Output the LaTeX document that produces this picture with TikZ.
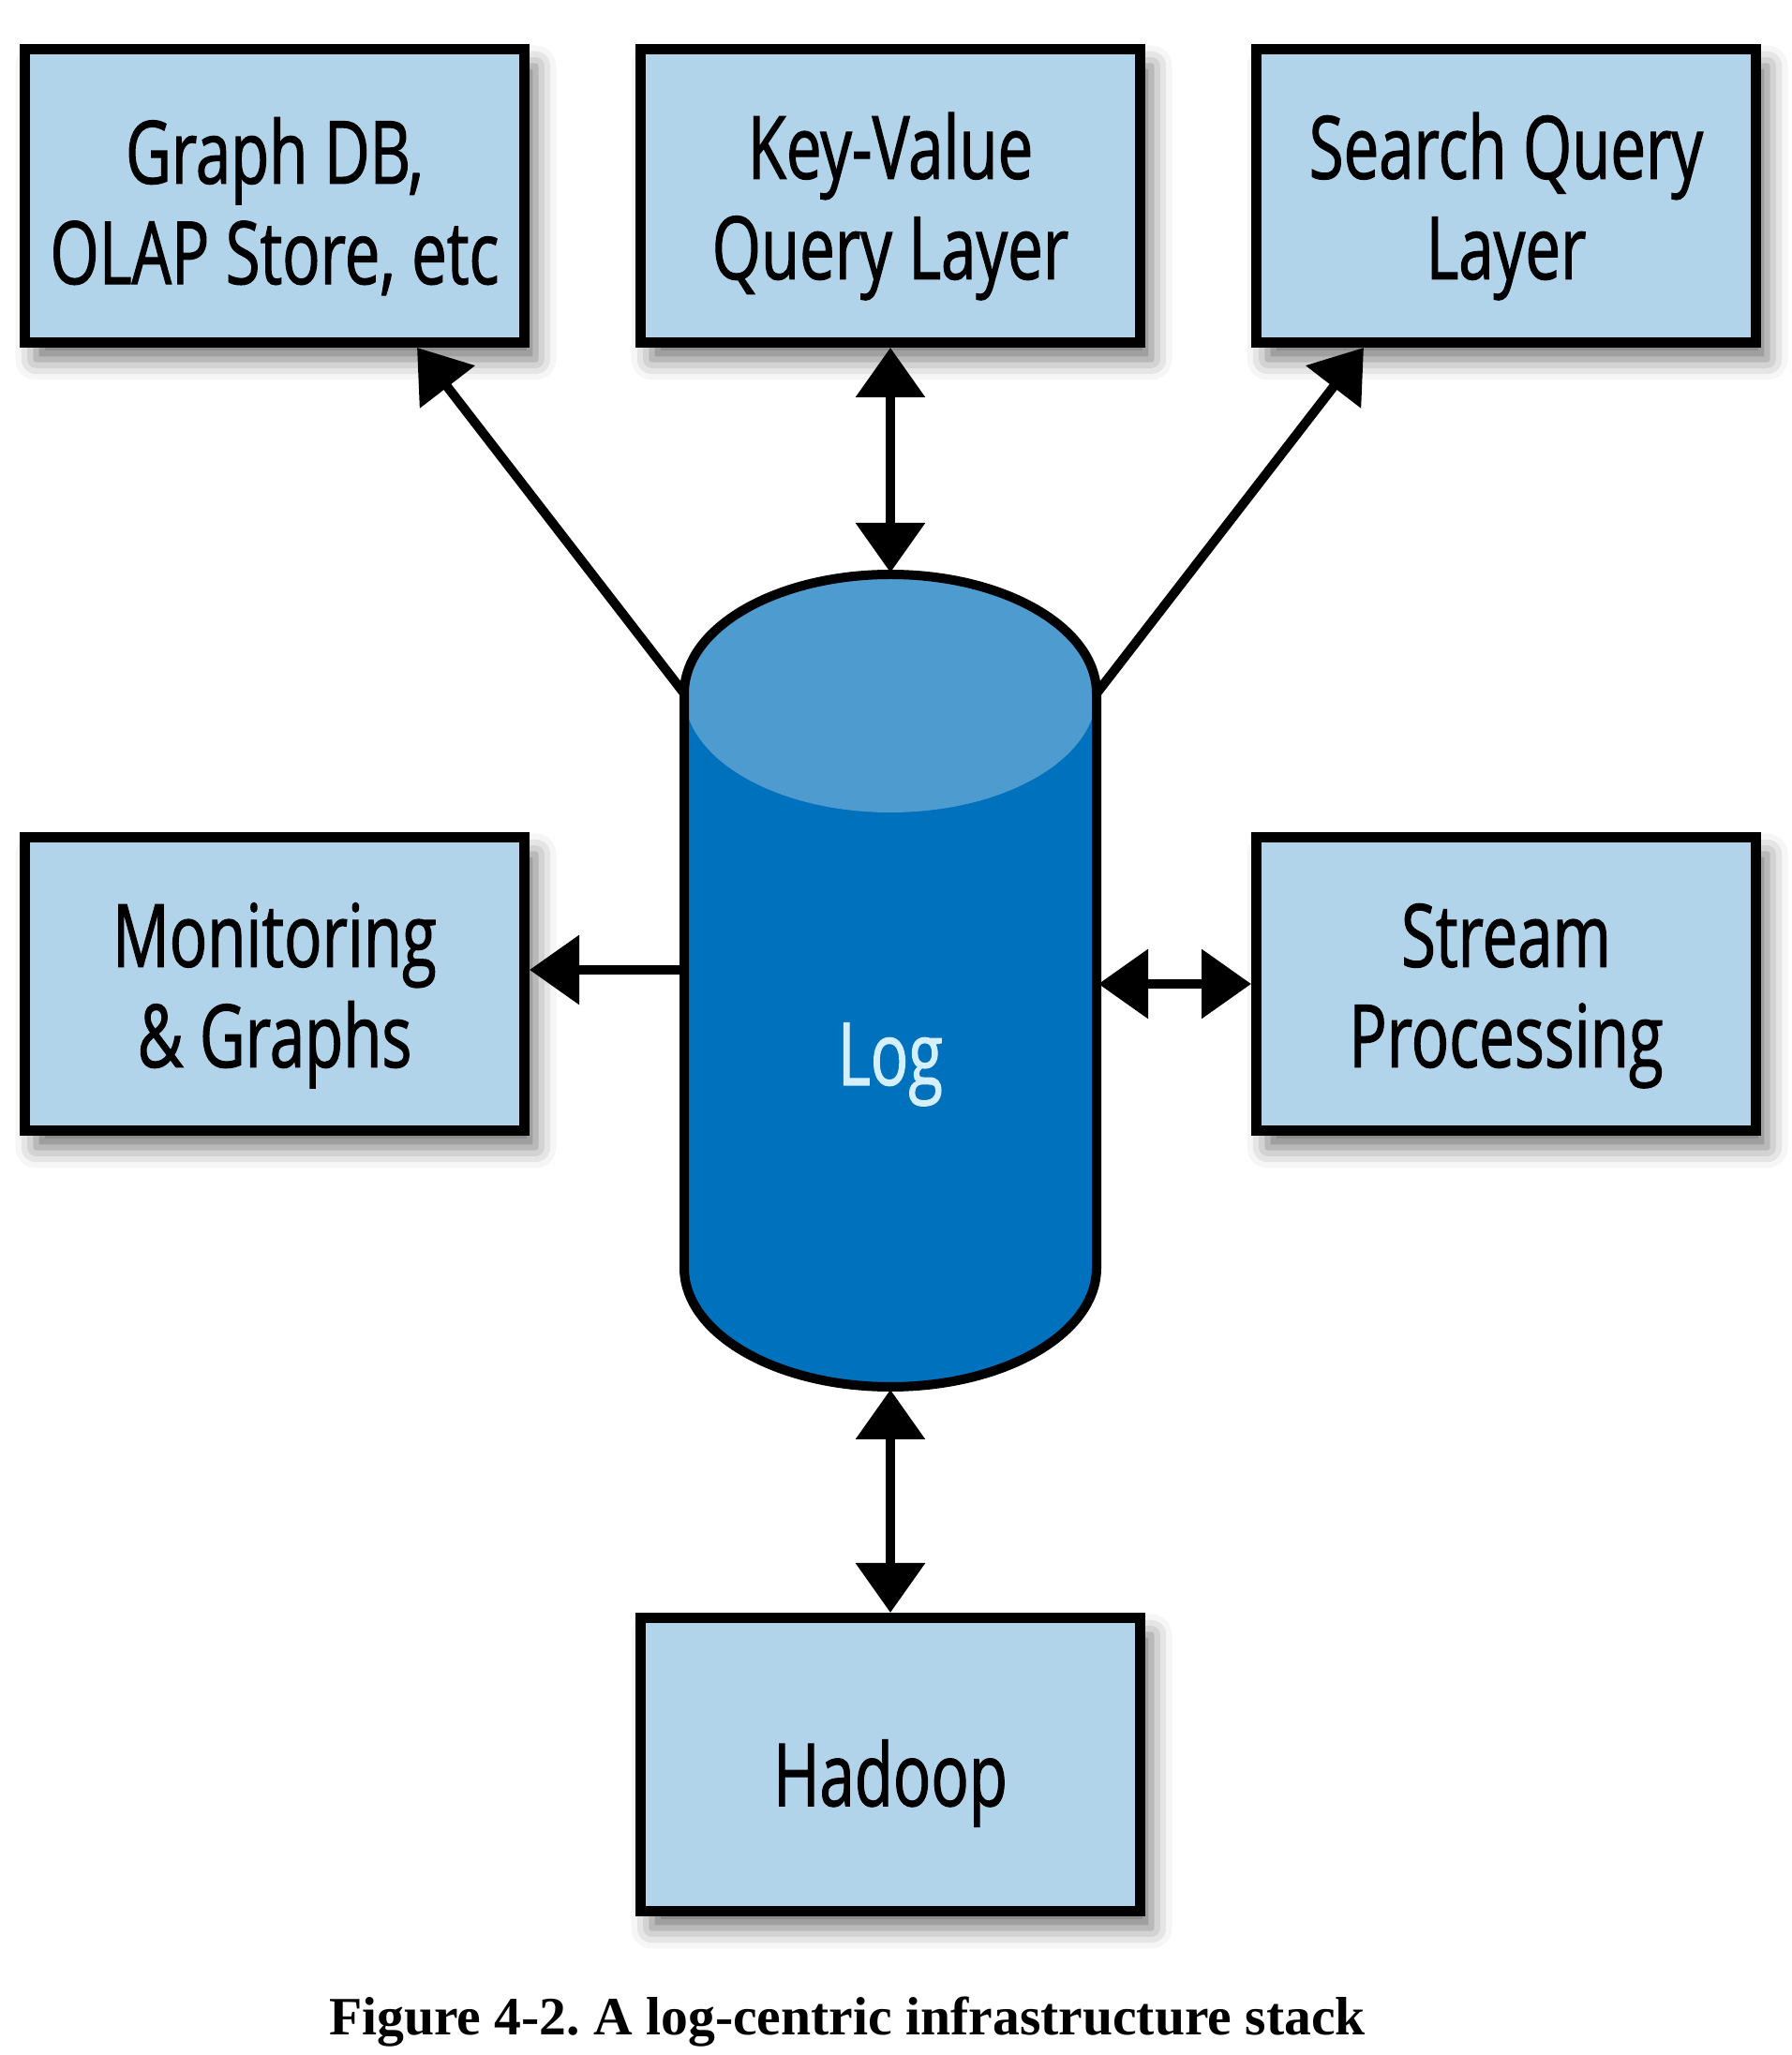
\documentclass[tikz,border=0pt]{standalone}
\usepackage{fontspec}
\usepackage{tikz}
\usetikzlibrary{arrows.meta, calc, shadows.blur}
\newfontfamily\boxfont[FakeStretch=0.72, FakeBold=1.2]{Open Sans}
\newfontfamily\capfont{Liberation Serif}
\newcommand{\topstrut}[1][0.93cm]{\rule{0pt}{#1}}
\definecolor{BoxBlue}{RGB}{178,212,235}
\definecolor{LogBlue}{RGB}{0,113,188}
\definecolor{LogLight}{RGB}{78,155,208}
\definecolor{LogText}{RGB}{212,240,255}

\begin{document}
\begin{tikzpicture}[
    box/.style={shape=rectangle, draw=black, line width=0.11cm, fill=BoxBlue,
        minimum width=5.33cm, minimum height=3.13cm, align=center, inner sep=0pt,
        font=\boxfont\fontsize{26.5}{30.5}\selectfont,
        blur shadow={shadow xshift=0.12cm, shadow yshift=-0.18cm,
            shadow blur radius=0.22cm, shadow opacity=55}},
    conn/.style={line width=0.10cm, -{Triangle[width=0.72cm, length=0.53cm]}},
    conn2/.style={line width=0.10cm,
        {Triangle[width=0.72cm, length=0.53cm]}-{Triangle[width=0.72cm, length=0.53cm]}},
    logline/.style={draw=black, line width=0.10cm, line join=round}]
    \useasboundingbox (0,0) rectangle (19.12,21.93);

    \node[box] (graph)   at ( 2.93,19.84) {\topstrut Graph DB,\\OLAP Store, etc};
    \node[box] (kv)      at ( 9.50,19.84) {\topstrut Key-Value\\Query Layer};
    \node[box] (search)  at (16.07,19.84) {\topstrut Search Query\\Layer};
    \node[box] (monitor) at ( 2.93,11.43) {\topstrut Monitoring\\\& Graphs};
    \node[box] (stream)  at (16.07,11.43) {\topstrut Stream\\Processing};
    \node[box] (hadoop)  at ( 9.50, 3.10) {\topstrut[1.11cm]Hadoop};

    % the log cylinder
    \fill[LogBlue] (7.30,14.53) -- (7.30,8.40)
        arc[start angle=180, end angle=360, x radius=2.20, y radius=1.27]
        -- (11.70,14.53) -- cycle;
    \fill[LogLight] (9.50,14.53) ellipse[x radius=2.20, y radius=1.27];
    \draw[logline] (7.30,8.40) -- (7.30,14.53)
        arc[start angle=180, end angle=0, x radius=2.20, y radius=1.27]
        -- (11.70,8.40)
        arc[start angle=0, end angle=-180, x radius=2.20, y radius=1.27];
    \node[font=\boxfont\fontsize{26.5}{30.5}\selectfont, text=LogText, anchor=base]
        (log) at (9.50,10.35) {Log};

    \coordinate (logNW)  at ( 7.30,14.53);
    \coordinate (logNE)  at (11.70,14.53);
    \coordinate (logtop) at ( 9.50,15.82);
    \coordinate (logbot) at ( 9.50, 7.10);
    \coordinate (logW)   at ( 7.30,11.58);
    \coordinate (logE)   at (11.72,11.43);
    \coordinate (graphIn)  at ($(graph.south)+(1.52,0)$);
    \coordinate (searchIn) at ($(search.south)+(-1.52,0)$);

    \path[conn]  (logNW)  edge (graphIn);
    \path[conn]  (logNE)  edge (searchIn);
    \path[conn2] (logtop) edge (kv.south);
    \path[conn]  (logW)   edge (logW -| monitor.east);
    \path[conn2] (logE)   edge (stream.west);
    \path[conn2] (logbot) edge (hadoop.north);

    \node[font=\capfont\bfseries\fontsize{16.4}{19}\selectfont, anchor=base]
        (caption) at (9.04,0.21) {\frenchspacing Figure 4-2. A log-centric infrastructure stack};
\end{tikzpicture}
\end{document}
